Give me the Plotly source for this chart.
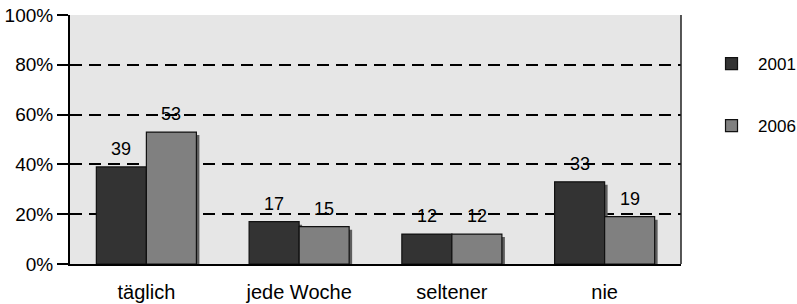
import plotly.graph_objects as go

categories = ["täglich", "jede Woche", "seltener", "nie"]
series_names = ["2001", "2006"]
values_2001 = [39, 17, 12, 33]
values_2006 = [53, 15, 12, 19]
y_ticks = [0, 20, 40, 60, 80, 100]
y_tick_labels = ["0%", "20%", "40%", "60%", "80%", "100%"]

colors = ["#333333", "#808080"]
FAM = "Liberation Sans, Arial, sans-serif"
def font(size):
    return dict(family=FAM, size=size, color="#000000")

series = [values_2001, values_2006]
bar_w = (1 - 0.345) / 2
shadow_dx = 0.0196   # ~3 px to the right
shadow_dy = -1.2     # ~3 px down

fig = go.Figure()
# drop shadows
for i, (name, vals) in enumerate(zip(series_names, series)):
    fig.add_trace(go.Bar(
        x=categories, y=vals, base=shadow_dy, width=bar_w,
        offset=(i - 1) * bar_w + shadow_dx,
        marker=dict(color="#5e5e5e", line=dict(width=0)),
        showlegend=False, hoverinfo="skip", legendgroup="s" + name,
    ))
# bars
for i, (name, vals) in enumerate(zip(series_names, series)):
    fig.add_trace(go.Bar(
        x=categories, y=vals, name=name, width=bar_w,
        offset=(i - 1) * bar_w,
        marker=dict(color=colors[i], line=dict(color="#111111", width=1.2)),
        legendgroup=name,
    ))

# value labels above bars
for i, vals in enumerate(series):
    off = (i - 0.5) * bar_w
    for j, v in enumerate(vals):
        fig.add_annotation(x=j + off, y=v, xref="x", yref="y", text=str(v),
                           showarrow=False, yanchor="middle", yshift=18,
                           font=font(18))

# right border of plot area
fig.add_shape(type="line", xref="paper", yref="paper", x0=1, x1=1, y0=0, y1=1,
              line=dict(color="#222222", width=1.5))

fig.update_layout(
    width=797, height=304,
    margin=dict(l=70, r=116, t=15, b=40, autoexpand=False),
    paper_bgcolor="#ffffff", plot_bgcolor="#e6e6e6",
    font=font(18),
    barmode="overlay",
    showlegend=True,
    legend=dict(x=1.0393, xanchor="left", y=0.8755, yanchor="top",
                tracegroupgap=37, traceorder="grouped", itemwidth=43,
                bgcolor="rgba(0,0,0,0)", font=font(17)),
    xaxis=dict(showline=True, linecolor="#000000", linewidth=2, ticks="",
               showgrid=False, ticklabelstandoff=9, tickfont=font(20),
               automargin=False, range=[-0.5, 3.5]),
    yaxis=dict(range=[0, 100], tickmode="array", tickvals=y_ticks,
               ticktext=y_tick_labels,
               showline=True, linecolor="#000000", linewidth=2,
               ticks="outside", ticklen=11, tickwidth=2, tickcolor="#000000",
               showgrid=True, gridcolor="#000000", gridwidth=1.5,
               griddash="12px,7px", zeroline=False, tickfont=font(19),
               automargin=False),
)

fig.write_html("out.html", config={"displayModeBar": False},
               post_script="document.body.style.margin='0';document.body.style.overflow='hidden';")
